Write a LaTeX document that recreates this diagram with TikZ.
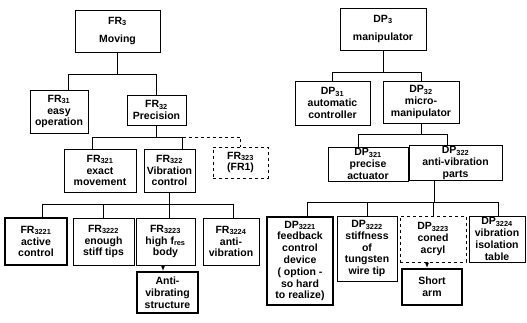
\documentclass[tikz,border=0pt]{standalone}
\usepackage{fontspec}
\setmainfont{Liberation Sans}
\usetikzlibrary{arrows.meta}

\tikzset{
  box/.style={draw, line width=0.9pt, align=center, inner sep=1pt,
    font=\bfseries\fontsize{10.5}{11.8}\selectfont},
  heavybox/.style={box, line width=2.2pt},
  optbox/.style={box, dashed},
  link/.style={line width=0.9pt},
  optlink/.style={link, dashed},
  down/.style={link, -{Latex[length=5pt,width=4pt]}},
}

\begin{document}
\begin{tikzpicture}[x=1pt,y=-1pt]
\useasboundingbox (0,0) rectangle (527,322);

% functional requirements
\node[box, minimum width=85pt, minimum height=42pt] (fr3) at (117.5,31) {FR\textsubscript{3}\\[7pt]Moving};
\node[box, minimum width=58pt, minimum height=43pt] (fr31) at (59,111.5) {FR\textsubscript{31}\\easy\\operation};
\node[box, minimum width=59pt, minimum height=30pt] (fr32) at (156.5,110) {FR\textsubscript{32}\\Precision};
\node[box, minimum width=72pt, minimum height=43pt] (fr321) at (100,170.5) {FR\textsubscript{321}\\exact\\movement};
\node[box, minimum width=51pt, minimum height=43pt] (fr322) at (169.5,170.5) {FR\textsubscript{322}\\Vibration\\control};
\node[optbox, minimum width=55pt, minimum height=31pt] (fr323) at (240.5,162.5) {FR\textsubscript{323}\\(FR1)};
\node[heavybox, minimum width=62pt, minimum height=47pt] (fr3221) at (36,241.5) {FR\textsubscript{3221}\\active\\control};
\node[box, minimum width=61pt, minimum height=47pt] (fr3222) at (103.5,241.5) {FR\textsubscript{3222}\\enough\\stiff tips};
\node[box, minimum width=59pt, minimum height=47pt] (fr3223) at (165.5,241.5) {FR\textsubscript{3223}\\high f\textsubscript{res}\\body};
\node[box, minimum width=56pt, minimum height=47pt] (fr3224) at (231,241.5) {FR\textsubscript{3224}\\anti-\\vibration};
\node[heavybox, minimum width=61pt, minimum height=41pt] (anti) at (167.5,292.5) {Anti-\\vibrating\\structure};

% design parameters
\node[box, minimum width=86pt, minimum height=42pt] (dp3) at (383,29) {DP\textsubscript{3}\\[7pt]manipulator};
\node[box, minimum width=75pt, minimum height=44pt] (dp31) at (332.5,103) {DP\textsubscript{31}\\automatic\\controller};
\node[box, minimum width=76pt, minimum height=42pt] (dp32) at (421,102) {DP\textsubscript{32}\\micro-\\manipulator};
\node[box, minimum width=80pt, minimum height=34pt] (dp321) at (368,164) {DP\textsubscript{321}\\precise\\actuator};
\node[box, minimum width=93pt, minimum height=34pt] (dp322) at (455.5,163) {DP\textsubscript{322}\\anti-vibration\\parts};
\node[heavybox, minimum width=66pt, minimum height=88pt] (dp3221) at (300,261) {DP\textsubscript{3221}\\feedback\\control\\device\\( option -\\so hard\\to realize)};
\node[box, minimum width=60pt, minimum height=65pt] (dp3222) at (367,248.5) {DP\textsubscript{3222}\\stiffness\\of\\tungsten\\wire tip};
\node[optbox, minimum width=66pt, minimum height=46pt] (dp3223) at (433,239) {DP\textsubscript{3223}\\coned\\acryl};
\node[box, minimum width=56pt, minimum height=46pt] (dp3224) at (497,239) {DP\textsubscript{3224}\\vibration\\isolation\\table};
\node[heavybox, minimum width=60pt, minimum height=36pt] (short) at (432,287) {Short\\arm};

% tree links, left
\coordinate (j3) at (fr3.south |- 0,74);
\draw[link] (fr3.south) -- (j3);
\draw[link] (j3) -| ([xshift=9pt]fr31.north);
\draw[link] (j3) -| (fr32.north);
\coordinate (j32) at (fr32.south |- 0,137);
\draw[link] (fr32.south) -- (j32);
\draw[link] (j32) -| ([xshift=-8pt]fr321.north);
\draw[link] (j32) -| ([xshift=13pt]fr322.north);
\draw[optlink] ([xshift=13pt]fr322.north |- j32) -| (fr323.north);
\coordinate (j322) at (fr322.south |- 0,204);
\draw[link] (fr322.south) -- (j322);
\draw[link] (j322) -| ([xshift=6pt]fr3221.north);
\draw[link] (j322) -| (fr3222.north);
\draw[link] (j322) -| ([xshift=4pt]fr3223.north);
\draw[link] (j322) -| ([xshift=2pt]fr3224.north);
\draw[down] ([xshift=-2.5pt]fr3223.south) -- ([xshift=-4.5pt]anti.north);

% tree links, right
\coordinate (k3) at (dp3.south |- 0,72);
\draw[link] (dp3.south) -- (k3);
\draw[link] (k3) -| (dp31.north);
\draw[link] (k3) -| (dp32.north);
\coordinate (k32) at (dp32.south |- 0,134);
\draw[link] (dp32.south) -- (k32);
\draw[link] (k32) -| ([xshift=-10pt]dp321.north);
\draw[link] (k32) -| ([xshift=-8pt]dp322.north);
\coordinate (k322) at (434,202);
\draw[link] (dp322.south -| k322) -- (k322);
\draw[link] (k322) -| ([xshift=7pt]dp3221.north);
\draw[link] (k322) -| (dp3222.north);
\draw[link] (k322) -| (dp3223.north);
\draw[link] (k322) -| ([xshift=1.5pt]dp3224.north);
\draw[down] ([xshift=-6pt]dp3223.south) -- ([xshift=-5pt]short.north);
\end{tikzpicture}
\end{document}
